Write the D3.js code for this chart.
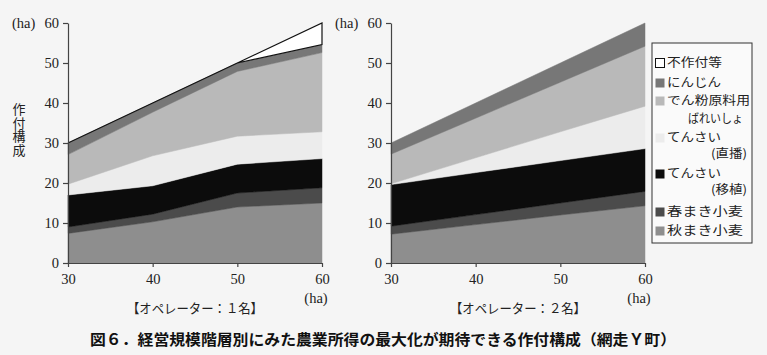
<!DOCTYPE html>
<html><head><meta charset="utf-8">
<script src="https://cdn.jsdelivr.net/npm/d3@7"></script>
<style>
html,body{margin:0;padding:0;background:#f5f5f5;}
svg{display:block;}
.num{font-family:"Liberation Serif","DejaVu Serif",serif;font-size:14.5px;fill:#222;}
</style></head>
<body>
<svg id="chart" width="767" height="355"></svg>
<script>
// ---- data ----
const sizes = [30, 40, 50, 60];
const yTicks = [0, 10, 20, 30, 40, 50, 60];
const keys = ["aki", "haru", "ishoku", "chokuha", "denpun", "ninjin", "fusaku"];

// operator 1
const aki1     = [7.4, 10.3, 14.0, 15.0];
const haru1    = [1.6, 1.9, 3.5, 3.8];
const ishoku1  = [8.0, 7.1, 7.2, 7.3];
const chokuha1 = [2.7, 7.5, 7.0, 6.7];
const denpun1  = [7.4, 10.9, 16.2, 19.8];
const ninjin1  = [2.9, 2.3, 2.1, 2.0];
const fusaku1  = [0, 0, 0, 5.4];

// operator 2
const aki2     = [7.2, 9.6, 12.0, 14.3];
const haru2    = [2.0, 2.5, 3.0, 3.6];
const ishoku2  = [10.4, 10.5, 10.6, 10.7];
const chokuha2 = [0.2, 3.7, 7.2, 10.6];
const denpun2  = [7.4, 9.9, 12.4, 15.0];
const ninjin2  = [2.8, 3.8, 4.8, 5.8];
const fusaku2  = [0, 0, 0, 0];

const legendLabels = [
  ["不作付等"], ["にんじん"], ["でん粉原料用", "ばれいしょ"],
  ["てんさい", "(直播)"], ["てんさい", "(移植)"], ["春まき小麦"], ["秋まき小麦"]
];
const legendKeys = ["fusaku", "ninjin", "denpun", "chokuha", "ishoku", "haru", "aki"];
const panelTitles = ["【オペレーター：１名】", "【オペレーター：２名】"];
const figTitle = "図６．経営規模階層別にみた農業所得の最大化が期待できる作付構成（網走Ｙ町）";
const yLabel = "作付構成";

// ---- styles ----
const colors = {
  aki: "#8e8e8e", haru: "#4b4b4b", ishoku: "#0c0c0c", chokuha: "#ececec",
  denpun: "#b9b9b9", ninjin: "#777777", fusaku: "#ffffff"
};
const jp = "'Noto Sans CJK JP', 'Noto Sans', sans-serif";

const svg = d3.select("#chart");
svg.append("rect").attr("width", 767).attr("height", 355).attr("fill", "#f5f5f5");

function buildRows(arrs) {
  return sizes.map((s, i) => {
    const r = { size: s };
    keys.forEach((k, j) => r[k] = arrs[j][i]);
    return r;
  });
}

function drawPanel(arrs, xRange, title, showYLabel) {
  const x = d3.scaleLinear().domain([30, 60]).range(xRange);
  const y = d3.scaleLinear().domain([0, 60]).range([263, 23]);
  const rows = buildRows(arrs);
  const stacked = d3.stack().keys(keys)(rows);
  const area = d3.area()
    .x(d => x(d.data.size))
    .y0(d => y(d[0]))
    .y1(d => y(d[1]));
  const g = svg.append("g");
  stacked.forEach(layer => {
    const k = layer.key;
    const total = d3.sum(layer, d => d[1] - d[0]);
    if (k === "fusaku") {
      if (total <= 0) return;
      g.append("path").attr("d", area(layer))
        .attr("fill", colors[k]).attr("stroke", "#111").attr("stroke-width", 1.2)
        .attr("stroke-linejoin", "miter");
    } else {
      g.append("path").attr("d", area(layer))
        .attr("fill", colors[k]).attr("stroke", colors[k]).attr("stroke-width", 0.5);
    }
  });

  const yAxis = g.append("g").attr("transform", `translate(${xRange[0]},0)`)
    .call(d3.axisLeft(y).tickValues(yTicks).tickSize(5).tickSizeOuter(0).tickPadding(4));
  const xAxis = g.append("g").attr("transform", `translate(0,263)`)
    .call(d3.axisBottom(x).tickValues(sizes).tickSize(4).tickSizeOuter(0).tickPadding(7));
  [yAxis, xAxis].forEach(a => {
    a.attr("font-family", null).attr("font-size", null);
    a.selectAll("path,line").attr("stroke", "#444").attr("stroke-width", 1.2);
    a.selectAll("text").attr("class", "num").attr("fill", null);
  });

  g.append("text").attr("class", "num").attr("x", xRange[0] - 56).attr("y", 23).attr("dy", "0.35em")
    .text("(ha)");
  g.append("text").attr("class", "num").attr("x", xRange[1] - 6).attr("y", 298).attr("dy", "0.35em")
    .attr("text-anchor", "middle").text("(ha)");
  g.append("text").attr("x", (xRange[0] + xRange[1]) / 2 - 68).attr("y", 308).attr("dy", "0.35em")
    .attr("font-family", jp).attr("font-size", 13).attr("fill", "#222")
    .attr("textLength", 136).attr("lengthAdjust", "spacingAndGlyphs").text(title);

  if (showYLabel) {
    g.append("text").attr("x", 19).attr("y", 103)
      .style("writing-mode", "vertical-rl")
      .attr("font-family", jp).attr("font-size", 13).attr("letter-spacing", 0.5)
      .attr("fill", "#222").text(yLabel);
  }
}

drawPanel([aki1, haru1, ishoku1, chokuha1, denpun1, ninjin1, fusaku1], [68, 322], panelTitles[0], true);
drawPanel([aki2, haru2, ishoku2, chokuha2, denpun2, ninjin2, fusaku2], [391, 645], panelTitles[1], false);

// ---- legend ----
const lg = svg.append("g");
lg.append("rect").attr("x", 652).attr("y", 43).attr("width", 100).attr("height", 200)
  .attr("fill", "#fafafa").attr("stroke", "#333").attr("stroke-width", 1);
const legendY = [63, 83, 101, 138, 174, 212, 231];
const legendW = [55, 54, 83, 54, 54, 76, 76];
const secondLine = { 2: { y: 119, x: 688, w: 55 }, 3: { y: 154, x: 711, w: 36 }, 4: { y: 190, x: 711, w: 36 } };
legendKeys.forEach((k, i) => {
  const yy = legendY[i];
  lg.append("rect").attr("x", 655.5).attr("y", yy - 4.5).attr("width", 9).attr("height", 9)
    .attr("fill", colors[k])
    .attr("stroke", k === "fusaku" ? "#111" : "none").attr("stroke-width", 1);
  lg.append("text").attr("x", 667).attr("y", yy).attr("dy", "0.35em")
    .attr("font-family", jp).attr("font-size", 12).attr("fill", "#222")
    .attr("textLength", legendW[i]).attr("lengthAdjust", "spacingAndGlyphs")
    .text(legendLabels[i][0]);
  if (secondLine[i]) {
    const s = secondLine[i];
    lg.append("text").attr("x", s.x).attr("y", s.y).attr("dy", "0.35em")
      .attr("font-family", jp).attr("font-size", 12).attr("fill", "#222")
      .attr("textLength", s.w).attr("lengthAdjust", "spacingAndGlyphs")
      .text(legendLabels[i][1]);
  }
});

// ---- figure title ----
svg.append("text").attr("x", 90).attr("y", 340).attr("dy", "0.35em")
  .attr("font-family", jp).attr("font-size", 15).attr("font-weight", "bold").attr("fill", "#111")
  .attr("textLength", 586).attr("lengthAdjust", "spacingAndGlyphs").text(figTitle);
</script>
</body></html>
